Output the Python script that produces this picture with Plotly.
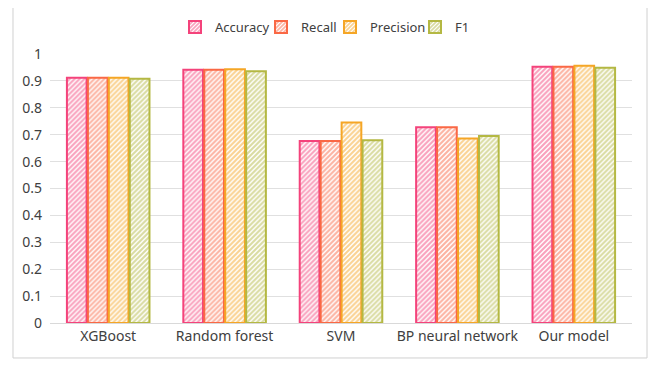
import plotly.graph_objects as go

categories = ["XGBoost", "Random forest", "SVM", "BP neural network", "Our model"]
series_names = ["Accuracy", "Recall", "Precision", "F1"]
accuracy = [0.912, 0.941, 0.677, 0.728, 0.953]
recall = [0.912, 0.941, 0.677, 0.728, 0.953]
precision = [0.912, 0.943, 0.745, 0.686, 0.956]
f1 = [0.908, 0.936, 0.679, 0.695, 0.949]
y_ticks = [0, 0.1, 0.2, 0.3, 0.4, 0.5, 0.6, 0.7, 0.8, 0.9, 1]
y_tick_labels = ["0", "0.1", "0.2", "0.3", "0.4", "0.5", "0.6", "0.7", "0.8", "0.9", "1"]

colors = ["#F4437B", "#FA6845", "#F5A626", "#B4B843"]
legend_ids = ["legend", "legend2", "legend3", "legend4"]
legend_left_px = [167, 253, 322, 407]

# page has an 8px body margin, so the figure is 650x358
W, H = 650, 358

fig = go.Figure()
for name, vals, c, lid in zip(series_names, [accuracy, recall, precision, f1], colors, legend_ids):
    fig.add_trace(go.Bar(
        x=categories, y=vals, name=name, legend=lid, showlegend=True,
        marker=dict(
            color="white",
            line=dict(color=c, width=2),
            pattern=dict(shape="/", fgcolor=c, bgcolor="white", size=3.5, solidity=0.6),
        ),
    ))

fig.add_shape(type="rect", xref="paper", yref="paper",
              x0=-0.0636, x1=1.0258, y0=-0.130, y1=1.1747,
              line=dict(color="#D0D0D0", width=1), fillcolor="rgba(0,0,0,0)", layer="below")

legend_common = dict(orientation="h", xref="container", yref="container",
                     xanchor="left", yanchor="middle", y=1 - 19 / H,
                     font=dict(size=13, color="#404040"), itemwidth=30,
                     bgcolor="rgba(0,0,0,0)", borderwidth=0, visible=True)
layout_legends = {}
for lid, lx in zip(legend_ids, legend_left_px):
    layout_legends[lid] = dict(legend_common, x=lx / W)

fig.update_layout(
    width=W, height=H,
    showlegend=True,
    margin=dict(l=42, r=26, t=46, b=43, autoexpand=False),
    paper_bgcolor="white", plot_bgcolor="white",
    barmode="group", bargap=0.28, bargroupgap=0.06,
    font=dict(family="Noto Sans, Open Sans, sans-serif", size=13, color="#404040"),
    xaxis=dict(showgrid=False, showline=True, linecolor="#D9D9D9", linewidth=1,
               ticks="", tickfont=dict(size=14)),
    yaxis=dict(range=[0, 1], tickvals=y_ticks, ticktext=y_tick_labels,
               showgrid=True, gridcolor="#E0E0E0", gridwidth=1, zeroline=False,
               showline=False, ticks="", ticklabelstandoff=7, tickfont=dict(size=14)),
    **layout_legends,
)

fig.write_html("out.html")
